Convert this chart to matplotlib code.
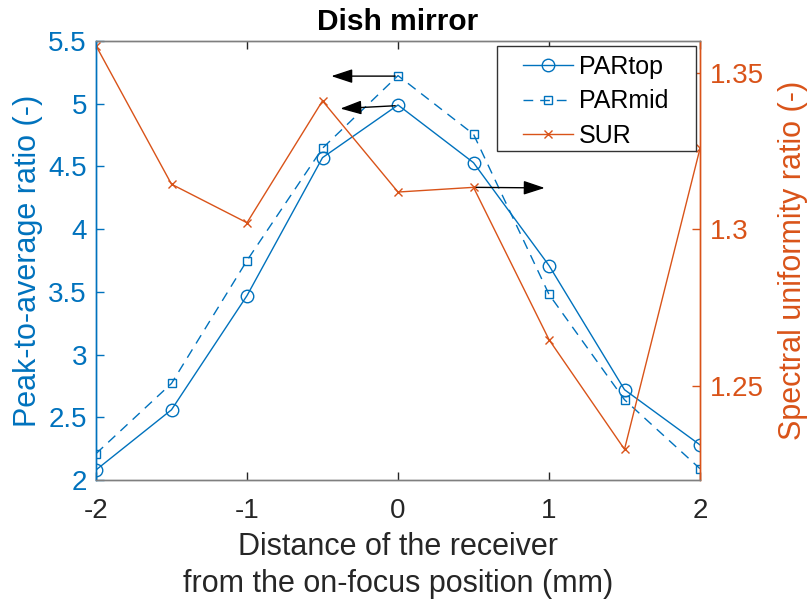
import matplotlib
matplotlib.use("Agg")
import matplotlib.pyplot as plt
from matplotlib.legend_handler import HandlerLine2D
from matplotlib.patches import Rectangle

plt.rcParams['font.family'] = ['Liberation Sans', 'DejaVu Sans']

x = [-2, -1.5, -1, -0.5, 0, 0.5, 1, 1.5, 2]
par_top = [2.08, 2.56, 3.47, 4.57, 4.99, 4.53, 3.71, 2.72, 2.28]
par_mid = [2.21, 2.77, 3.75, 4.645, 5.224, 4.757, 3.48, 2.64, 2.09]
sur = [1.3586, 1.3144, 1.3021, 1.341, 1.3119, 1.3134, 1.2648, 1.2298, 1.3258]

left_ticks = [2, 2.5, 3, 3.5, 4, 4.5, 5, 5.5]
left_labels = ['2', '2.5', '3', '3.5', '4', '4.5', '5', '5.5']
right_ticks = [1.25, 1.3, 1.35]
right_labels = ['1.25', '1.3', '1.35']
x_ticks = [-2, -1, 0, 1, 2]

blue = '#0072BD'
orange = '#D95319'
dark = '#262626'
tfs = 20
lfs = 22

fig = plt.figure(figsize=(8.08, 6.06), dpi=100)
ax = fig.add_axes([96/808, 1-480/606, 604/808, 439/606])
ax2 = ax.twinx()

l1, = ax.plot(x, par_top, '-', color=blue, lw=1.0, marker='o', ms=9, mfc='none', mew=1.0, label='PARtop')
l2, = ax.plot(x, par_mid, '--', color=blue, lw=1.0, marker='s', ms=6, mfc='none', mew=1.0, label='PARmid', dashes=(7, 5))
l3, = ax2.plot(x, sur, '-', color=orange, lw=1.0, marker='x', ms=6, mew=1.0, label='SUR')

ax.set_xlim(-2, 2)
ax.set_ylim(2, 5.5)
ax2.set_ylim(1.22, 1.3601)
ax.set_xticks(x_ticks)
ax.set_xticklabels([str(v) for v in x_ticks])
ax.set_yticks(left_ticks)
ax.set_yticklabels(left_labels)
ax2.set_yticks(right_ticks)
ax2.set_yticklabels(right_labels)

ax.tick_params(axis='x', direction='in', top=True, labelsize=tfs, colors=dark, length=6, width=1.0, pad=13)
ax.tick_params(axis='y', direction='in', labelsize=tfs, colors=blue, length=6, width=1.0, pad=6.5)
ax2.tick_params(axis='y', direction='in', labelsize=tfs, colors=orange, length=6, width=1.0, pad=7)

for a in (ax, ax2):
    a.spines['top'].set_color('#7f7f7f')
    a.spines['bottom'].set_color('#7f7f7f')
    a.spines['left'].set_color(blue)
    a.spines['right'].set_color(orange)
    for s in a.spines.values():
        s.set_linewidth(1.0)

ax.set_xlabel('Distance of the receiver\nfrom the on-focus position (mm)', fontsize=lfs, color=dark, linespacing=1.3, labelpad=6)
ax.set_ylabel('Peak-to-average ratio (-)', fontsize=lfs, color=blue, labelpad=4)
ax2.set_ylabel('Spectral uniformity ratio (-)', fontsize=lfs, color=orange, labelpad=10)
ax.set_title('Dish mirror', fontsize=21.5, fontweight='bold', pad=8)

arrow_kw = dict(arrowstyle='-|>,head_length=1.0,head_width=0.33', color='black', lw=1.0, mutation_scale=13)
ax.annotate('', xy=(-0.46, 5.22), xytext=(0.0, 5.22), arrowprops=arrow_kw)
ax.annotate('', xy=(-0.40, 4.96), xytext=(0.0, 4.985), arrowprops=arrow_kw)
ax2.annotate('', xy=(0.99, 1.3132), xytext=(0.5, 1.3134), arrowprops=arrow_kw)

# legend frame drawn as a figure-coordinate rectangle (MATLAB-style wide box)
frame = Rectangle((497/808, 1-151/606), 199/808, 105/606, transform=fig.transFigure,
                  facecolor='white', edgecolor='#333333', lw=1.0, zorder=4.5)
ax2.add_artist(frame)

hm = {l: HandlerLine2D(xpad=0.68) for l in (l1, l2, l3)}
leg = ax2.legend(handles=[l1, l2, l3], loc='upper left', bbox_to_anchor=(497/808, 1-46/606), bbox_transform=fig.transFigure,
                 fontsize=18, frameon=False, borderpad=0.35, labelspacing=0.42,
                 handlelength=2.68, handletextpad=0.24, borderaxespad=0, handler_map=hm)
leg.set_zorder(5)

fig.savefig('out.png', dpi=100)
